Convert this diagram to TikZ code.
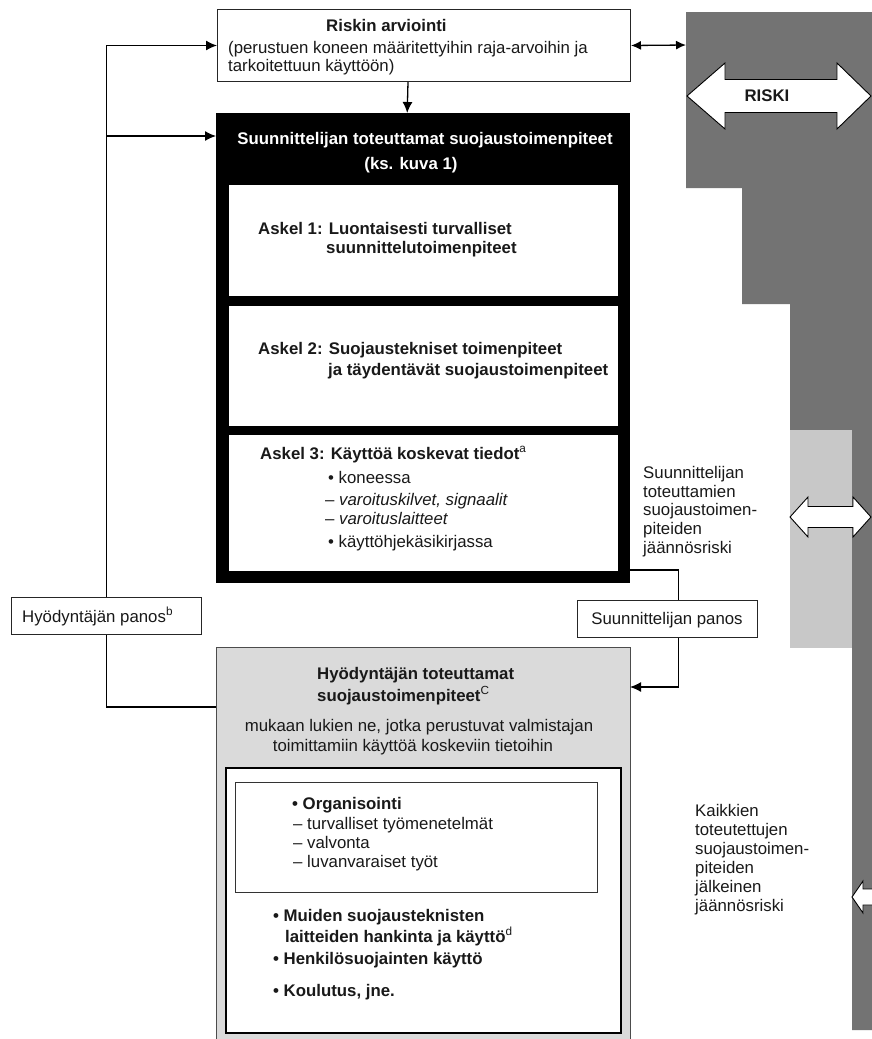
\documentclass[tikz,border=0pt]{standalone}
\usepackage{fontspec}
\setmainfont{Liberation Sans}
\usetikzlibrary{arrows.meta}
\definecolor{darkg}{RGB}{115,115,115}
\definecolor{lightg}{RGB}{200,200,200}
\definecolor{boxg}{RGB}{218,218,218}
\definecolor{txtc}{RGB}{25,25,25}
\newcommand\myfs{\fontsize{16.8}{20}\selectfont}
\tikzset{
 frame/.style={draw=black!85, line width=1, fill=white, inner sep=0, anchor=north west},
 blackbox/.style={fill=black, inner sep=0, anchor=north west},
 whitebox/.style={fill=white, inner sep=0, anchor=north west},
 graybox/.style={draw=black!70, line width=1.2, fill=boxg, inner sep=0, anchor=north west},
 innerbox/.style={draw=black, line width=1.6, fill=white, inner sep=0, anchor=north west},
 orgbox/.style={draw=black!80, line width=1.3, fill=white, inner sep=0, anchor=north west},
 line/.style={draw=black, line width=1.3},
 conn/.style={line, -{Latex[length=11pt,width=10pt]}},
 conn2/.style={line, {Latex[length=10pt,width=9pt]}-{Latex[length=10pt,width=9pt]}},
 t/.style={font=\myfs, text=txtc, inner sep=0, anchor=base west},
 tb/.style={t, font=\myfs\bfseries},
 tc/.style={t, anchor=base},
 tbc/.style={tb, anchor=base},
 bigarrow/.style={fill=white, draw=black, line width=0.9},
}
\begin{document}
\begin{tikzpicture}[x=1pt,y=-1pt]
\useasboundingbox (0,0) rectangle (872,1039);
\clip (0,0) rectangle (872,1039);
\fill[white] (0,0) rectangle (872,1039);

% right-hand risk shapes
\fill[darkg] (686,12) -- (872,12) -- (872,1030) -- (852,1030) -- (852,430) -- (790,430) -- (790,304) -- (742,304) -- (742,188) -- (686,188) -- cycle;
\fill[lightg] (790,430) rectangle (852,648);

\draw[bigarrow] (687,96) -- (725,63) -- (725,79.5) -- (837,79.5) -- (837,63) -- (871,96) -- (837,129) -- (837,112.5) -- (725,112.5) -- (725,129) -- cycle;
\node[tbc, anchor=center] (riski) at (767,96) {RISKI};

\draw[bigarrow] (790,517) -- (808,497) -- (808,506.5) -- (853,506.5) -- (853,497) -- (871,517) -- (853,537) -- (853,527.5) -- (808,527.5) -- (808,537) -- cycle;

\draw[bigarrow] (852,897) -- (863,881) -- (863,889) -- (885,889) -- (885,881) -- (896,897) -- (885,913) -- (885,905) -- (863,905) -- (863,913) -- cycle;

% boxes
\node[frame, minimum width=413pt, minimum height=72pt] (risk) at (217,9) {};
\node[blackbox, minimum width=414pt, minimum height=470pt] (des) at (216,113) {};
\node[whitebox, minimum width=389pt, minimum height=111pt] (s1) at (229,185) {};
\node[whitebox, minimum width=389pt, minimum height=120pt] (s2) at (229,306) {};
\node[whitebox, minimum width=389pt, minimum height=136pt] (s3) at (229,435) {};
\node[frame, minimum width=190pt, minimum height=37pt] (upanos) at (11,597) {};
\node[frame, minimum width=180pt, minimum height=37pt] (dpanos) at (577,600) {};
\node[graybox, minimum width=414pt, minimum height=420pt] (user) at (216,647) {};
\node[innerbox, minimum width=395pt, minimum height=265pt] (userin) at (225,767) {};
\node[orgbox, minimum width=362pt, minimum height=110pt] (org) at (235,782) {};

% connectors
\coordinate (gr) at (686,45);
\draw[conn2] (risk.east) -- (gr);
\draw[conn] ([xshift=-16pt]risk.south) -- ([xshift=-16pt]des.north);
\draw[conn] (upanos.north) |- (risk.west);
\coordinate (b2) at (106,136);
\draw[conn] (b2) -- (b2 -| des.west);
\coordinate (ujoin) at (216,707);
\draw[line] (upanos.south) |- (ujoin);
\coordinate (dj1) at (630,570);
\draw[line] (dj1) -| ([xshift=11pt]dpanos.north);
\coordinate (uarr) at (630,687);
\draw[conn] ([xshift=11pt]dpanos.south) |- (uarr);

% texts: top box
\node[tb] (t1) at (326,31) {Riskin arviointi};
\node[t] (t2) at (228,53) {(perustuen koneen määritettyihin raja-arvoihin ja};
\node[t] (t3) at (228,71) {tarkoitettuun käyttöön)};

% black box header
\node[tbc, text=white] (h1) at (425,144) {Suunnittelijan toteuttamat suojaustoimenpiteet};
\node[tbc, text=white] (h2) at (411,169) {(ks. kuva 1)};

% steps
\node[tb] (a1) at (258,234) {Askel 1: Luontaisesti turvalliset};
\node[tb] (a1b) at (326,253) {suunnittelutoimenpiteet};
\node[tb] (a2) at (258,354) {Askel 2: Suojaustekniset toimenpiteet};
\node[tb] (a2b) at (328,375) {ja täydentävät suojaustoimenpiteet};
\node[tb] (a3) at (260,459) {Askel 3: Käyttöä koskevat tiedot\textsuperscript{\mdseries a}};
\node[t] (a3a) at (328,483) {• koneessa};
\node[t] (a3b) at (325,505) {– \textit{varoituskilvet, signaalit}};
\node[t] (a3c) at (325,524) {– \textit{varoituslaitteet}};
\node[t] (a3d) at (328,547) {• käyttöhjekäsikirjassa};

% right texts
\node[t] (r1) at (643,478) {Suunnittelijan};
\node[t] (r2) at (643,497) {toteuttamien};
\node[t] (r3) at (643,515) {suojaustoimen-};
\node[t] (r4) at (643,534) {piteiden};
\node[t] (r5) at (643,553) {jäännösriski};

\node[t] (k1) at (695,816) {Kaikkien};
\node[t] (k2) at (695,835) {toteutettujen};
\node[t] (k3) at (695,854) {suojaustoimen-};
\node[t] (k4) at (695,873) {piteiden};
\node[t] (k5) at (695,892) {jälkeinen};
\node[t] (k6) at (695,911) {jäännösriski};

% panos labels
\node[t] (up) at (22,622) {Hyödyntäjän panos\textsuperscript{b}};
\node[tc] (dp) at (667,624) {Suunnittelijan panos};

% user box
\node[tb] (u1) at (317,679) {Hyödyntäjän toteuttamat};
\node[tb] (u2) at (317,701) {suojaustoimenpiteet\textsuperscript{\mdseries C}};
\node[tc] (u3) at (419,731) {mukaan lukien ne, jotka perustuvat valmistajan};
\node[tc] (u4) at (413,751) {toimittamiin käyttöä koskeviin tietoihin};

\node[tb] (o1) at (292,809) {• Organisointi};
\node[t] (o2) at (293,829) {– turvalliset työmenetelmät};
\node[t] (o3) at (293,848) {– valvonta};
\node[t] (o4) at (293,867) {– luvanvaraiset työt};

\node[tb] (m1) at (273,921) {• Muiden suojausteknisten};
\node[tb] (m2) at (285,942) {laitteiden hankinta ja käyttö\textsuperscript{\mdseries d}};
\node[tb] (m3) at (273,964) {• Henkilösuojainten käyttö};
\node[tb] (m4) at (273,996) {• Koulutus, jne.};
\end{tikzpicture}
\end{document}
